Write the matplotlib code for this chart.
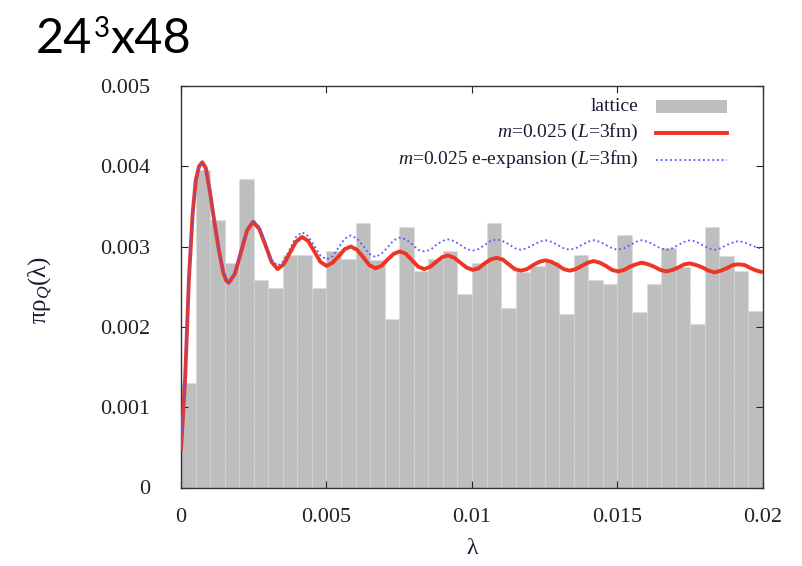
import matplotlib
matplotlib.use("Agg")
import matplotlib.pyplot as plt
from matplotlib.patches import Rectangle
from matplotlib.lines import Line2D
import numpy as np

plt.rcParams["mathtext.fontset"] = "custom"
plt.rcParams["mathtext.rm"] = "Liberation Serif"
plt.rcParams["mathtext.it"] = "Liberation Serif:italic"
plt.rcParams["font.family"] = ["Liberation Serif", "DejaVu Serif"]

# ---- lattice histogram: bins of width 0.0005 starting at lambda = 0 ----
bin_width = 0.0005
lattice_rho = [
    0.00130, 0.00395, 0.00333, 0.00279, 0.00384, 0.00259, 0.00249, 0.00290, 0.00290, 0.00249,
    0.00295, 0.00285, 0.00330, 0.00283, 0.00210, 0.00325, 0.00269, 0.00285, 0.00294, 0.00241,
    0.00279, 0.00330, 0.00223, 0.00268, 0.00276, 0.00281, 0.00216, 0.00289, 0.00259, 0.00253,
    0.00314, 0.00219, 0.00253, 0.00298, 0.00275, 0.00204, 0.00324, 0.00288, 0.00269, 0.00220,
]

# ---- RMT curves: m=0.025, L=3fm (exact and e-expansion) ----
lam_curve = [
    0.0, 0.00007, 0.00014, 0.00020, 0.00027, 0.00034, 0.00040, 0.00051, 0.00062, 0.00073,
    0.00085, 0.00100, 0.00115, 0.00130, 0.00145, 0.00155, 0.00164, 0.00185, 0.00206, 0.00227,
    0.00248, 0.00269, 0.00290, 0.00311, 0.00332, 0.00353, 0.00374, 0.00395, 0.00416, 0.00437,
    0.00458, 0.00479, 0.00500, 0.00521, 0.00542, 0.00563, 0.00584, 0.00605, 0.00626, 0.00647,
    0.00668, 0.00689, 0.00710, 0.00731, 0.00752, 0.00773, 0.00794, 0.00815, 0.00836, 0.00857,
    0.00877, 0.00898, 0.00918, 0.00939, 0.00960, 0.00981, 0.01002, 0.01023, 0.01043, 0.01064,
    0.01084, 0.01105, 0.01126, 0.01147, 0.01168, 0.01189, 0.01210, 0.01231, 0.01252, 0.01273,
    0.01294, 0.01315, 0.01336, 0.01357, 0.01377, 0.01398, 0.01418, 0.01439, 0.01460, 0.01481,
    0.01502, 0.01523, 0.01543, 0.01564, 0.01584, 0.01605, 0.01626, 0.01647, 0.01668, 0.01689,
    0.01709, 0.01730, 0.01750, 0.01771, 0.01792, 0.01813, 0.01834, 0.01855, 0.01875, 0.01896,
    0.01916, 0.01937, 0.01958, 0.01979, 0.02000,
]
rho_exact = [
    0.00046, 0.00090, 0.00134, 0.00190, 0.00258, 0.00303, 0.00341, 0.00383, 0.00400, 0.00405,
    0.00398, 0.00367, 0.00330, 0.00296, 0.00268, 0.00258, 0.00255, 0.00266, 0.00293, 0.00320,
    0.00331, 0.00322, 0.00302, 0.00281, 0.00272, 0.00278, 0.00292, 0.00306, 0.00312, 0.00307,
    0.00294, 0.00281, 0.00276, 0.00280, 0.00288, 0.00297, 0.00300, 0.00296, 0.00287, 0.00277,
    0.00273, 0.00276, 0.00284, 0.00291, 0.00294, 0.00291, 0.00283, 0.00275, 0.00272, 0.00275,
    0.00281, 0.00287, 0.00289, 0.00286, 0.00280, 0.00274, 0.00271, 0.00273, 0.00279, 0.00284,
    0.00286, 0.00284, 0.00278, 0.00272, 0.00270, 0.00272, 0.00277, 0.00281, 0.00283, 0.00281,
    0.00277, 0.00272, 0.00270, 0.00272, 0.00276, 0.00280, 0.00282, 0.00280, 0.00276, 0.00271,
    0.00269, 0.00271, 0.00275, 0.00278, 0.00280, 0.00278, 0.00275, 0.00271, 0.00269, 0.00271,
    0.00274, 0.00278, 0.00279, 0.00277, 0.00274, 0.00270, 0.00268, 0.00270, 0.00273, 0.00277,
    0.00278, 0.00277, 0.00273, 0.00270, 0.00268,
]
rho_eexp = [
    0.00046, 0.00090, 0.00134, 0.00190, 0.00258, 0.00303, 0.00341, 0.00383, 0.00400, 0.00405,
    0.00398, 0.00367, 0.00330, 0.00296, 0.00269, 0.00259, 0.00256, 0.00267, 0.00295, 0.00322,
    0.00333, 0.00325, 0.00305, 0.00284, 0.00276, 0.00282, 0.00297, 0.00312, 0.00318, 0.00313,
    0.00301, 0.00289, 0.00284, 0.00288, 0.00299, 0.00310, 0.00314, 0.00310, 0.00301, 0.00291,
    0.00287, 0.00291, 0.00299, 0.00308, 0.00311, 0.00309, 0.00303, 0.00296, 0.00294, 0.00296,
    0.00302, 0.00307, 0.00309, 0.00307, 0.00302, 0.00297, 0.00295, 0.00297, 0.00302, 0.00307,
    0.00309, 0.00307, 0.00303, 0.00298, 0.00296, 0.00298, 0.00302, 0.00306, 0.00308, 0.00306,
    0.00302, 0.00298, 0.00296, 0.00298, 0.00302, 0.00306, 0.00308, 0.00306, 0.00302, 0.00298,
    0.00296, 0.00298, 0.00302, 0.00306, 0.00308, 0.00306, 0.00302, 0.00298, 0.00296, 0.00298,
    0.00302, 0.00306, 0.00308, 0.00306, 0.00302, 0.00298, 0.00296, 0.00298, 0.00302, 0.00305,
    0.00307, 0.00305, 0.00302, 0.00299, 0.00297,
]

x_ticks = [0.0, 0.005, 0.01, 0.015, 0.02]
x_tick_labels = ["0", "0.005", "0.01", "0.015", "0.02"]
y_ticks = [0.0, 0.001, 0.002, 0.003, 0.004, 0.005]
y_tick_labels = ["0", "0.001", "0.002", "0.003", "0.004", "0.005"]

legend_labels = [
    "lattice",
    r"$m$=0.025 ($L$=3fm)",
    r"$m$=0.025 e-expansion ($L$=3fm)",
]

bar_color = "#bebebe"
red = "#ee3524"
blue = "#4f5bff"
text_color = "#1a1a33"

W, H = 803, 566
fig = plt.figure(figsize=(W / 100, H / 100), dpi=100)
ax = fig.add_axes([181 / W, 1 - 487.5 / H, 582 / W, 401.5 / H])

bin_left = np.arange(len(lattice_rho)) * bin_width
ax.bar(bin_left, lattice_rho, width=bin_width, align="edge", color=bar_color,
       edgecolor="#d9d9d9", linewidth=0.8, linestyle=(0, (1, 2)), zorder=1)

ax.plot(lam_curve, rho_exact, color=red, lw=2.8, zorder=3, solid_capstyle="butt")
ax.plot(lam_curve, rho_eexp, color=blue, lw=1.3, ls=(0, (1, 1.6)), zorder=4)

ax.set_xlim(0, 0.02)
ax.set_ylim(0, 0.005)
ax.set_xticks(x_ticks)
ax.set_xticklabels(x_tick_labels)
ax.set_yticks(y_ticks)
ax.set_yticklabels(y_tick_labels)
ax.tick_params(direction="in", length=5, width=0.8, top=True, right=True,
               labelsize=16, colors="#222222")
ax.tick_params(axis="y", pad=22)
ax.tick_params(axis="x", pad=15)
for s in ax.spines.values():
    s.set_linewidth(1.0)
    s.set_color("#333333")

# legend in gnuplot style: right-aligned text, sample to its right
tx = 0.786
hx0, hx1 = 0.816, 0.939
rows = [0.949, 0.884, 0.816]
ax.add_patch(Rectangle((hx0, rows[0] - 0.017), hx1 - hx0, 0.034, transform=ax.transAxes,
                       facecolor=bar_color, edgecolor="none", zorder=5))
ax.add_line(Line2D([hx0, hx1], [rows[1], rows[1]], transform=ax.transAxes,
                   color=red, lw=2.8, zorder=5))
ax.add_line(Line2D([hx0, hx1], [rows[2], rows[2]], transform=ax.transAxes,
                   color=blue, lw=1.3, ls=(0, (1, 1.6)), zorder=5))
for y, lab in zip(rows, legend_labels):
    ax.text(tx, y, lab, transform=ax.transAxes, ha="right", va="center",
            fontsize=14, color=text_color, zorder=6)

fig.text(40 / W, 1 - 290 / H, "πρ$_Q$(λ)", rotation=90, ha="center", va="center",
         fontsize=18, color=text_color)
fig.text(472 / W, 1 - 549 / H, "λ", ha="center", va="center", fontsize=17,
         color=text_color)

# heading "24^3x48" set in three pieces so the exponent sits flush with the cap line
head_font = ["Lato", "DejaVu Sans"]
base_y = 1 - 53 / H
fig.canvas.draw()
renderer = fig.canvas.get_renderer()
t1 = fig.text(36 / W, base_y, "24", ha="left", va="baseline", fontsize=35,
              family=head_font, color="black")
x1 = t1.get_window_extent(renderer).x1
t2 = fig.text((x1 + 1) / W, 1 - 37 / H, "3", ha="left", va="baseline", fontsize=20,
              family=head_font, color="black")
x2 = t2.get_window_extent(renderer).x1
fig.text((x2 + 1) / W, base_y, "x48", ha="left", va="baseline", fontsize=35,
         family=head_font, color="black")

fig.savefig("out.png", dpi=100)
